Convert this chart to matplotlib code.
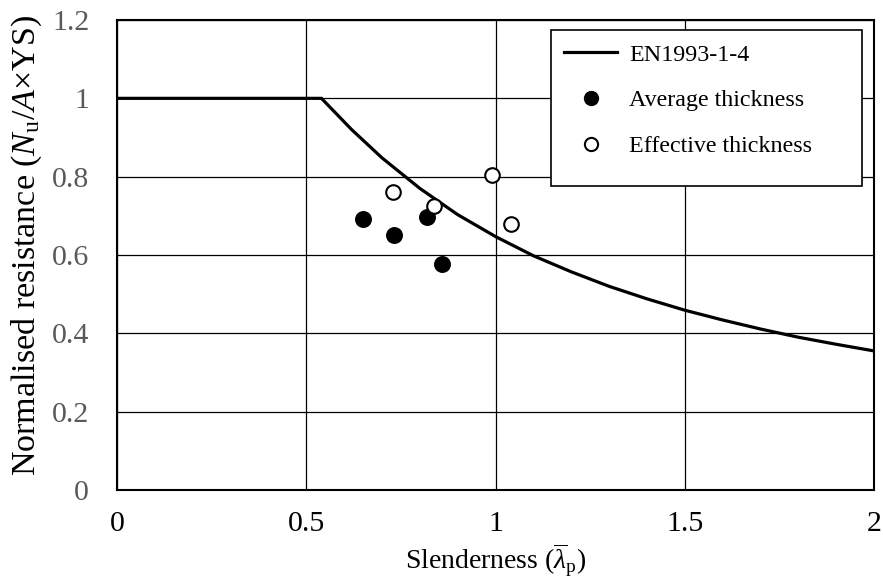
import matplotlib
matplotlib.use("Agg")
import matplotlib.pyplot as plt
from matplotlib.lines import Line2D
from matplotlib.patches import Rectangle

plt.rcParams["font.family"] = ["Liberation Serif", "DejaVu Serif"]
plt.rcParams["mathtext.fontset"] = "custom"
plt.rcParams["mathtext.rm"] = "Liberation Serif"
plt.rcParams["mathtext.it"] = "Liberation Serif:italic"
plt.rcParams["mathtext.bf"] = "Liberation Serif:bold"

# EN1993-1-4 design curve (reduction factor vs. plate slenderness)
curve_x = [0.0, 0.54, 0.62, 0.70, 0.80, 0.90, 1.00, 1.10, 1.20, 1.30, 1.40,
           1.50, 1.60, 1.70, 1.80, 1.90, 2.00]
curve_y = [1.0, 1.0, 0.920, 0.848, 0.770, 0.703, 0.647, 0.598, 0.557, 0.520,
           0.488, 0.459, 0.434, 0.411, 0.390, 0.372, 0.355]

# Test results
avg_x = [0.651, 0.732, 0.820, 0.859]
avg_y = [0.692, 0.651, 0.698, 0.576]
eff_x = [0.728, 0.837, 0.990, 1.042]
eff_y = [0.760, 0.725, 0.804, 0.678]

x_ticks = [0, 0.5, 1, 1.5, 2]
x_tick_labels = ["0", "0.5", "1", "1.5", "2"]
y_ticks = [0, 0.2, 0.4, 0.6, 0.8, 1.0, 1.2]
y_tick_labels = ["0", "0.2", "0.4", "0.6", "0.8", "1", "1.2"]

fig = plt.figure(figsize=(8.83, 5.85), dpi=100)
ax = fig.add_axes([0.1325, 0.1624, 0.8575, 0.8034])

ax.plot(curve_x, curve_y, color="black", lw=2.3, solid_joinstyle="miter",
        zorder=3)
ax.plot(avg_x, avg_y, "o", ms=11, mfc="black", mec="black", mew=1.2,
        ls="none", zorder=4)
ax.plot(eff_x, eff_y, "o", ms=10.5, mfc="white", mec="black", mew=1.5,
        ls="none", zorder=4)

ax.set_xlim(0, 2)
ax.set_ylim(0, 1.2)
ax.set_xticks(x_ticks)
ax.set_xticklabels(x_tick_labels)
ax.set_yticks(y_ticks)
ax.set_yticklabels(y_tick_labels)
ax.tick_params(axis="both", length=0, labelsize=21.5)
ax.tick_params(axis="x", pad=15, labelcolor="black")
ax.tick_params(axis="y", pad=20, labelcolor="#595959")
ax.grid(True, color="black", lw=0.9)
ax.set_axisbelow(True)
for s in ax.spines.values():
    s.set_color("black")
    s.set_linewidth(1.5)

ax.set_xlabel(r"Slenderness ($\overline{\lambda}_\mathrm{p}$)", fontsize=20,
              labelpad=3)
ax.set_ylabel(r"Normalised resistance ($N_\mathrm{u}$/$A$×YS)", fontsize=24.5)
ax.yaxis.set_label_coords(-0.097, 0.521)

# Legend box
ax.add_patch(Rectangle((0.573, 0.647), 0.411, 0.332, transform=ax.transAxes,
                       facecolor="white", edgecolor="black", lw=1.2,
                       zorder=5))
handles = [
    Line2D([], [], color="black", lw=2.3),
    Line2D([], [], marker="o", ls="none", ms=10, mfc="black", mec="black"),
    Line2D([], [], marker="o", ls="none", ms=9.5, mfc="white", mec="black",
           mew=1.5),
]
labels = ["EN1993-1-4", "Average thickness", "Effective thickness"]
leg = ax.legend(handles, labels, loc="upper left",
                bbox_to_anchor=(0.578, 0.970), fontsize=17.3, frameon=False,
                handlelength=2.2, labelspacing=1.0, borderpad=0.4,
                handletextpad=0.5, borderaxespad=0)
leg.set_zorder(6)

fig.savefig("out.png", dpi=100)
